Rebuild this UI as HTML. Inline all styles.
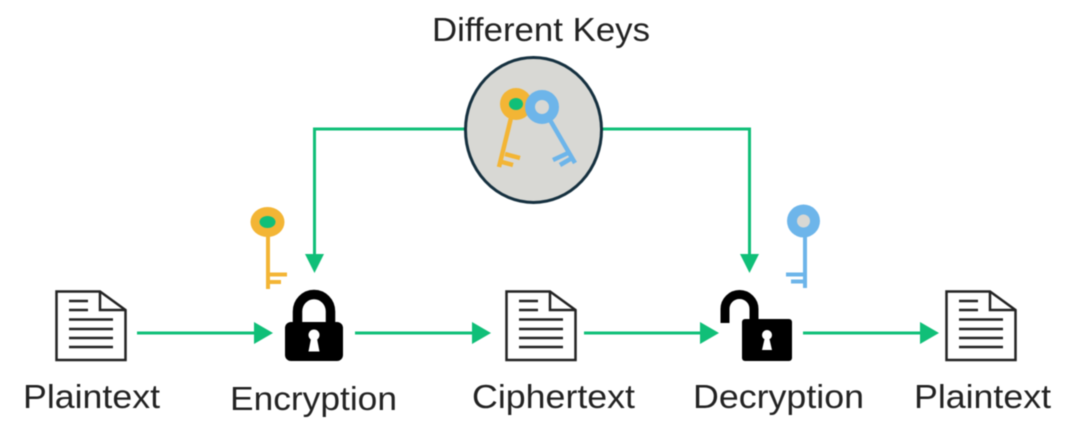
<!DOCTYPE html>
<html>
<head>
<meta charset="utf-8">
<style>
html,body{margin:0;padding:0;background:#fff}
svg{display:block;filter:blur(.4px)}
text{font-family:"Liberation Sans",sans-serif;font-size:33.500px;fill:#222}
</style>
</head>
<body>
<svg width="1067" height="431" viewBox="0 0 1067 431" xmlns="http://www.w3.org/2000/svg">
<defs>
<g id="doc" fill="none" stroke="#222" stroke-width="2.5">
  <path d="M56.5 291.5H100L125.5 310V360H56.5Z" fill="#fff"/>
  <path d="M100 291.5V310H125.5"/>
  <path d="M69 301H88M69 310H88M69 319.500H113M69 329H113M69 338H113M69 347H113"/>
</g>
</defs>

<!-- connectors -->
<g fill="none" stroke="#10bf78" stroke-width="3">
  <path d="M137 333H258M355 333H476M584 333H704M803 333H924"/>
  <path d="M466 129H314.500V256M602 129H749.500V256"/>
</g>
<g fill="#10bf78">
  <path d="M254 322L273 333L254 344Z"/>
  <path d="M472 322L491 333L472 344Z"/>
  <path d="M700 322L719 333L700 344Z"/>
  <path d="M920 322L939 333L920 344Z"/>
  <path d="M305 254H324L314.500 273Z"/>
  <path d="M740 254H759L749.500 273Z"/>
</g>

<!-- documents -->
<use href="#doc"/>
<use href="#doc" x="450"/>
<use href="#doc" x="890"/>

<!-- central key circle -->
<ellipse cx="533.500" cy="130" rx="68" ry="72.500" fill="#d8d8d4" stroke="#15303f" stroke-width="3"/>
<g fill="none" stroke="#f3b535" stroke-width="4.500">
  <path d="M511 118L499 167M505 154L520 158M502 162L513 165"/>
</g>
<ellipse cx="516" cy="104" rx="16" ry="16" fill="#f3b535"/>
<ellipse cx="516" cy="104" rx="7" ry="6" fill="#10bf78"/>
<g fill="none" stroke="#6db5ea" stroke-width="4.500">
  <path d="M550 120L575 163M568 153L553 160M572 158L560 165"/>
</g>
<circle cx="542" cy="107" r="12" fill="#d8d8d4" stroke="#6db5ea" stroke-width="10"/>

<!-- orange key -->
<ellipse cx="267.500" cy="222" rx="17" ry="15" fill="#f3b535"/>
<ellipse cx="267.500" cy="222" rx="8" ry="6" fill="#10bf78"/>
<path d="M268 235V289M268 274.500H287M268 282H281" fill="none" stroke="#f3b535" stroke-width="4"/>

<!-- blue key -->
<circle cx="803.500" cy="221" r="16.500" fill="#6db5ea"/>
<circle cx="803.500" cy="221" r="6.500" fill="#d8d8d4"/>
<path d="M805 235V288M805 274.500H786M805 281.500H791" fill="none" stroke="#6db5ea" stroke-width="4"/>

<!-- closed lock -->
<path d="M297.500 324V311.500A16.500 17 0 0 1 330.500 311.500V324" fill="none" stroke="#000" stroke-width="9.500"/>
<rect x="285" y="322" width="58" height="39" rx="6" fill="#000"/>
<circle cx="314" cy="335" r="5.500" fill="#fff"/>
<path d="M311.500 336L308.500 351.500H319.500L316.500 336Z" fill="#fff"/>

<!-- open lock -->
<path d="M725 323V309A14.500 14.500 0 0 1 754 309V322" fill="none" stroke="#000" stroke-width="9"/>
<rect x="742" y="319" width="50" height="42" rx="3" fill="#000"/>
<circle cx="767" cy="335" r="5" fill="#fff"/>
<path d="M765 337L762 350H772L769 337Z" fill="#fff"/>

<!-- labels -->
<text x="432" y="41" textLength="218" lengthAdjust="spacingAndGlyphs">Different Keys</text>
<text x="23" y="408" textLength="137" lengthAdjust="spacingAndGlyphs">Plaintext</text>
<text x="230" y="410" textLength="167" lengthAdjust="spacingAndGlyphs">Encryption</text>
<text x="472" y="408" textLength="163" lengthAdjust="spacingAndGlyphs">Ciphertext</text>
<text x="693" y="408" textLength="171" lengthAdjust="spacingAndGlyphs">Decryption</text>
<text x="914" y="408" textLength="137" lengthAdjust="spacingAndGlyphs">Plaintext</text>
</svg>
</body>
</html>
